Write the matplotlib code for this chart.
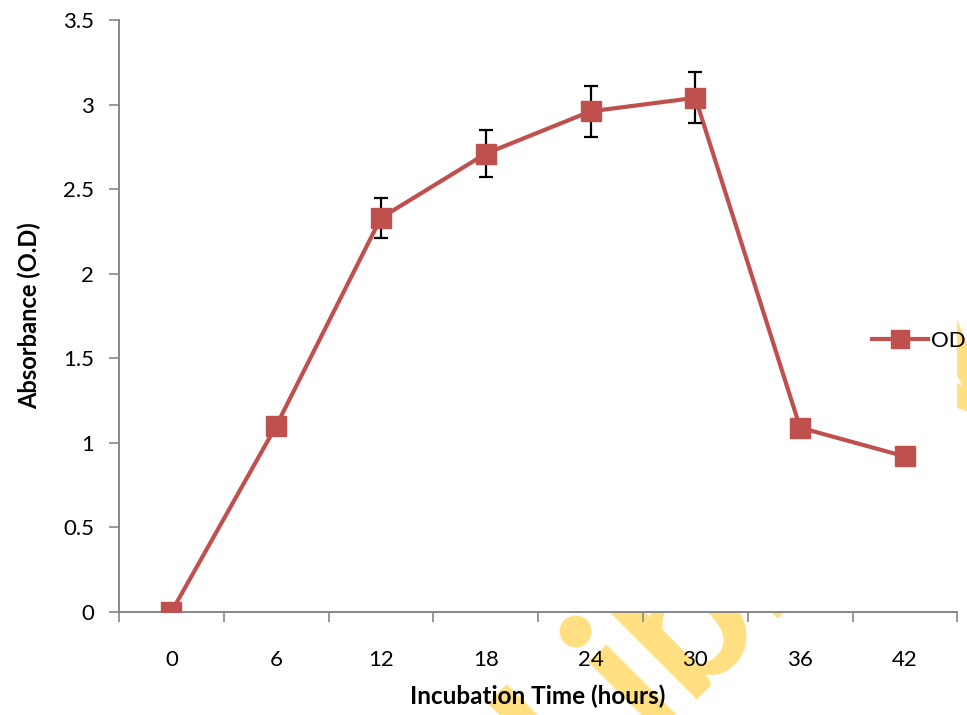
import matplotlib.pyplot as plt
import numpy as np

plt.rcParams['font.family'] = ['Lato', 'DejaVu Sans']

# 培养时间与吸光度
hours = ['0', '6', '12', '18', '24', '30', '36', '42']
od = [0.0, 1.10, 2.33, 2.71, 2.96, 3.04, 1.09, 0.92]
od_err = [0.0, 0.05, 0.12, 0.14, 0.15, 0.15, 0.04, 0.0]

red = '#C0504D'
grey = '#868686'

fig = plt.figure(figsize=(9.67, 7.15), dpi=100)
ax = fig.add_axes([0.123, 0.144, 0.867, 0.828])
ax.set_facecolor('white')

x = np.arange(len(hours))
ax.plot(x, od, color=red, lw=3, zorder=2)
ax.errorbar(x, od, yerr=od_err, fmt='none', ecolor='black', elinewidth=1.6,
            capsize=5, capthick=1.6, zorder=3)
ax.plot(x, od, ls='none', marker='s', ms=14, color=red, zorder=4)

# 图例句柄
ax.plot([], [], color=red, lw=3, marker='s', ms=13, label='OD')

ax.set_xlim(-0.5, len(hours) - 0.5)
ax.set_ylim(0, 3.5)
ax.set_yticks(np.arange(0, 3.51, 0.5))
ax.set_yticklabels(['0', '0.5', '1', '1.5', '2', '2.5', '3', '3.5'])
ax.set_xticks(x)
ax.set_xticklabels(hours)
ax.set_xticks(np.arange(-0.5, len(hours)), minor=True)
ax.tick_params(axis='x', which='major', length=0, pad=27, labelsize=16)
ax.tick_params(axis='x', which='minor', length=7, width=1.2, color=grey, direction='out')
ax.tick_params(axis='y', length=7, width=1.2, color=grey, labelsize=16, pad=11)

for s in ['top', 'right']:
    ax.spines[s].set_visible(False)
for s in ['left', 'bottom']:
    ax.spines[s].set_color(grey)
    ax.spines[s].set_linewidth(1.4)

ax.set_xlabel('Incubation Time (hours)', fontsize=17.5, fontweight='bold', labelpad=11)
ax.set_ylabel('Absorbance (O.D)', fontsize=17, fontweight='bold', labelpad=15.5)

ax.legend(loc='center left', bbox_to_anchor=(0.902, 0.523), bbox_transform=fig.transFigure,
          frameon=False, fontsize=16, handlelength=2.5, handletextpad=0.15,
          borderpad=0, borderaxespad=0)

# 水印（被绘图区白底遮住一部分）
fig.text(0.594, -0.127, 'Library', fontsize=145, fontweight='bold', color='#FFDF80',
         rotation=45, rotation_mode='anchor', ha='left', va='baseline', zorder=-1)

fig.savefig('out.png', dpi=100)
plt.close(fig)
